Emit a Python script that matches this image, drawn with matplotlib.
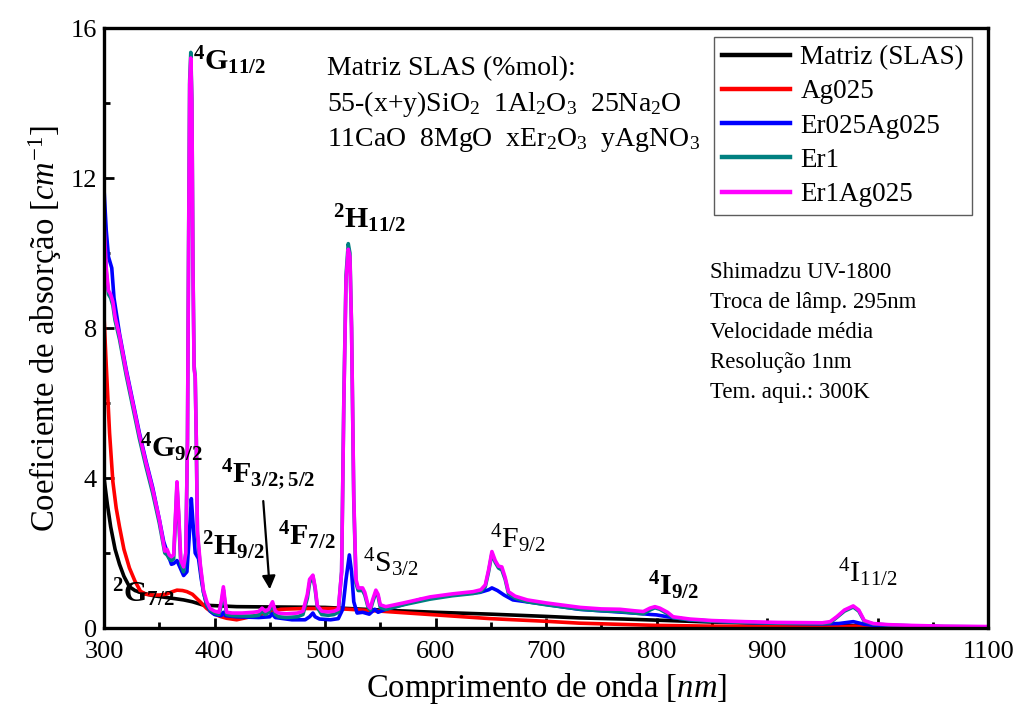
import matplotlib
matplotlib.use('Agg')
import matplotlib.pyplot as plt
from matplotlib.ticker import MultipleLocator

plt.rcParams['font.family'] = ['Liberation Serif', 'DejaVu Serif']
plt.rcParams['mathtext.fontset'] = 'custom'
plt.rcParams['mathtext.rm'] = 'Liberation Serif'
plt.rcParams['mathtext.it'] = 'Liberation Serif:italic'
plt.rcParams['mathtext.bf'] = 'Liberation Serif:bold'

# Matriz (SLAS)
wl_matriz = [300, 303, 306, 310, 314, 318, 323, 328, 335, 345, 355, 365, 372, 380, 390, 405,
             420, 460, 500, 550, 600, 650, 700, 730, 770, 800, 850, 900, 950, 1000, 1050, 1100]
abs_matriz = [4.0, 3.3, 2.7, 2.1, 1.7, 1.38, 1.1, 1.0, 0.93, 0.86, 0.82, 0.78, 0.75, 0.7, 0.61, 0.59,
              0.57, 0.56, 0.55, 0.48, 0.42, 0.37, 0.31, 0.27, 0.24, 0.21, 0.16, 0.12, 0.08, 0.05, 0.02, 0.0]

# Ag025
wl_ag = [300, 302, 305, 308, 311, 314, 318, 323, 328, 333, 338, 344, 350, 356, 361, 366, 371, 375,
         380, 387, 393, 399, 405, 411, 420, 440, 460, 480, 510, 550, 600, 650, 700, 730, 800,
         850, 900, 950, 970, 980, 990, 1000, 1050, 1100]
abs_ag = [8.3, 7.0, 5.2, 3.9, 3.2, 2.7, 2.1, 1.6, 1.25, 0.98, 0.9, 0.88, 0.88, 0.9, 0.96, 1.01, 1.0, 0.97,
          0.9, 0.7, 0.52, 0.39, 0.31, 0.26, 0.22, 0.35, 0.5, 0.52, 0.52, 0.45, 0.35, 0.25, 0.18, 0.13, 0.07,
          0.05, 0.04, 0.03, 0.04, 0.05, 0.03, 0.02, 0.01, 0.0]

# Er025Ag025
wl_er025 = [300, 302, 304, 306, 307, 309, 314, 320, 326, 332, 338, 344, 350, 354, 358, 361, 363, 366,
            369, 372, 375, 377, 379, 380.5, 382.5, 385.5, 388, 390, 393, 396, 400, 406, 408, 410, 420,
            440, 450, 452, 455, 470, 482, 486, 489, 491, 495, 505, 512, 516, 519, 522, 524, 526,
            529, 534, 540, 545, 548, 555, 570, 586, 600, 620, 640, 648, 651, 656, 662, 670, 700, 730,
            770, 788, 795, 800, 810, 830, 860, 900, 950, 965, 978, 988, 1000, 1050, 1100]
abs_er025 = [11.7, 10.6, 9.9, 9.7, 9.6, 8.8, 7.85, 6.9, 6.05, 5.2, 4.45, 3.75, 2.9, 2.3, 1.95, 1.7, 1.72, 1.8,
             1.6, 1.4, 1.5, 2.4, 3.45, 2.8, 2.0, 1.85, 1.3, 0.96, 0.6, 0.45, 0.36, 0.33, 0.42, 0.33, 0.3,
             0.28, 0.3, 0.38, 0.28, 0.22, 0.22, 0.3, 0.4, 0.3, 0.24, 0.22, 0.25, 0.5, 1.3, 1.95, 1.5, 0.7,
             0.4, 0.42, 0.37, 0.5, 0.42, 0.5, 0.62, 0.76, 0.82, 0.9, 0.95, 1.02, 1.07, 1.0, 0.88, 0.75, 0.63, 0.5,
             0.42, 0.38, 0.36, 0.35, 0.3, 0.22, 0.17, 0.13, 0.11, 0.12, 0.17, 0.1, 0.06, 0.03, 0.02]

# Er1
wl_er1 = [300, 302, 304, 306, 308, 310, 314, 320, 326, 332, 338, 344, 350, 355, 357, 359, 361, 363,
          364.5, 366, 367.5, 369.5, 372, 374, 375.5, 376.5, 377.5, 378.5, 379.5, 380.5, 381.5, 382.5, 383.5,
          384.5, 387, 390, 393, 396, 400, 404, 406, 408, 409.5, 411, 416, 425, 435, 440, 443, 446,
          449, 452.5, 455, 458, 465, 475, 480, 484, 486, 489, 491, 493, 497, 503, 508, 512, 515,
          517, 519, 521, 522.5, 524, 526, 528, 530, 534, 536, 539, 541, 543, 546, 548, 550, 555, 571,
          595, 615, 634, 641, 645, 648, 651, 654, 657, 660, 663, 666, 672, 683, 700, 731, 750,
          767, 780, 788, 794, 798.5, 803, 810, 815, 830, 850, 880, 910, 950, 957, 963, 970, 978, 983, 988,
          996, 1010, 1030, 1060, 1100]
abs_er1 = [10.7, 9.5, 8.9, 8.8, 8.6, 8.2, 7.7, 6.75, 5.9, 5.05, 4.3, 3.6, 2.8, 2.0, 1.95, 1.85, 1.8, 1.85,
           2.8, 3.8, 3.0, 1.7, 1.5, 2.0, 5.0, 10.2, 14.6, 15.35, 14.1, 9.6, 7.0, 6.7, 5.0,
           2.5, 1.65, 0.95, 0.62, 0.48, 0.4, 0.36, 0.6, 1.02, 0.65, 0.36, 0.33, 0.32, 0.32, 0.34, 0.45, 0.36,
           0.42, 0.64, 0.36, 0.3, 0.28, 0.3, 0.36, 0.8, 1.2, 1.38, 1.05, 0.55, 0.36, 0.34, 0.36, 0.42, 1.5,
           6.1, 9.4, 10.25, 10.0, 8.0, 3.4, 1.2, 1.0, 1.0, 0.88, 0.55, 0.48, 0.68, 0.95, 0.85, 0.55, 0.5, 0.62,
           0.77, 0.86, 0.92, 0.97, 1.1, 1.5, 1.98, 1.75, 1.6, 1.55, 1.3, 0.92, 0.8, 0.7, 0.62, 0.5, 0.46,
           0.44, 0.4, 0.38, 0.48, 0.54, 0.5, 0.38, 0.28, 0.22, 0.18, 0.15, 0.13, 0.12, 0.14, 0.28, 0.45, 0.56, 0.45, 0.18,
           0.11, 0.08, 0.06, 0.04, 0.03]

# Er1Ag025
wl_er1ag = [300, 302, 304, 306, 308, 310, 314, 320, 326, 332, 338, 344, 350, 355, 357, 359, 361, 363,
            364.5, 366, 367.5, 369.5, 372, 374, 375.5, 376.5, 377.5, 378.5, 379.5, 380.5, 381.5, 382.5, 383.5,
            384.5, 387, 390, 393, 396, 400, 404, 406, 408, 409.5, 411, 416, 425, 435, 440, 443, 446,
            449, 452.5, 455, 458, 465, 475, 480, 484, 486, 489, 491, 493, 497, 503, 508, 512, 515,
            517, 519, 521, 522.5, 524, 526, 528, 530, 534, 536, 539, 541, 543, 546, 548, 550, 555, 571,
            595, 615, 634, 641, 645, 648, 651, 654, 657, 660, 663, 666, 672, 683, 700, 731, 750,
            767, 780, 788, 794, 798.5, 803, 810, 815, 830, 850, 880, 910, 950, 957, 963, 970, 978, 983, 988,
            996, 1010, 1030, 1060, 1100]
abs_er1ag = [10.8, 9.6, 9.0, 8.9, 8.7, 8.3, 7.8, 6.85, 6.0, 5.15, 4.4, 3.7, 2.9, 2.05, 2.1, 1.95, 1.9, 1.95,
             2.9, 3.9, 3.1, 1.8, 1.63, 2.0, 5.0, 10.0, 14.5, 15.2, 14.0, 9.5, 6.9, 6.7, 5.0,
             2.6, 1.73, 1.01, 0.7, 0.52, 0.45, 0.42, 0.7, 1.1, 0.72, 0.42, 0.4, 0.4, 0.42, 0.44, 0.53, 0.45,
             0.5, 0.7, 0.45, 0.4, 0.38, 0.4, 0.45, 0.9, 1.3, 1.41, 1.1, 0.6, 0.45, 0.43, 0.45, 0.5, 1.5,
             6.0, 9.3, 10.1, 9.9, 8.0, 3.5, 1.3, 1.07, 1.07, 0.95, 0.6, 0.53, 0.75, 1.01, 0.9, 0.62, 0.57, 0.67,
             0.83, 0.91, 0.97, 1.02, 1.15, 1.55, 2.04, 1.8, 1.65, 1.63, 1.35, 0.97, 0.85, 0.75, 0.67, 0.55, 0.51,
             0.5, 0.46, 0.44, 0.53, 0.57, 0.53, 0.42, 0.3, 0.24, 0.2, 0.17, 0.15, 0.14, 0.17, 0.3, 0.48, 0.59, 0.48, 0.2,
             0.12, 0.09, 0.07, 0.05, 0.04]

fig = plt.figure(figsize=(10.16, 7.09), dpi=100)
ax = fig.add_axes([0.1024, 0.1142, 0.8701, 0.8463])

lw = 2.6
ax.plot(wl_matriz, abs_matriz, color='black', lw=lw, label='Matriz (SLAS)')
ax.plot(wl_ag, abs_ag, color='#ff0000', lw=lw, label='Ag025')
ax.plot(wl_er025, abs_er025, color='#0000ff', lw=lw, label='Er025Ag025')
ax.plot(wl_er1, abs_er1, color='#008080', lw=lw, label='Er1')
ax.plot(wl_er1ag, abs_er1ag, color='#ff00ff', lw=lw, label='Er1Ag025')

ax.set_xlim(300, 1100)
ax.set_ylim(0, 16)
ax.xaxis.set_major_locator(MultipleLocator(100))
ax.xaxis.set_minor_locator(MultipleLocator(50))
ax.yaxis.set_major_locator(MultipleLocator(4))
ax.yaxis.set_minor_locator(MultipleLocator(2))
ax.tick_params(which='both', direction='in', width=2, labelsize=19, top=False, right=False)
ax.tick_params(which='major', length=7)
ax.tick_params(which='minor', length=4)
ax.tick_params(axis='x', pad=9)
ax.tick_params(axis='y', pad=5)
for s in ax.spines.values():
    s.set_linewidth(2.4)

ax.set_xlabel('Comprimento de onda [$\\it{nm}$]', fontsize=23.5, labelpad=6)
ax.set_ylabel('Coeficiente de absorção [$\\it{cm}^{\\it{-1}}$]', fontsize=23.5, labelpad=5)

leg = ax.legend(loc='upper right', bbox_to_anchor=(0.982, 0.985), borderaxespad=0, fontsize=19.5,
                frameon=True, fancybox=False, edgecolor='#333333', handlelength=2.5, labelspacing=0.34,
                handletextpad=0.4, borderpad=0.3)
leg.get_frame().set_linewidth(1)
for h in leg.get_lines():
    h.set_linewidth(3.2)

# transitions
bold = dict(fontsize=21.5, ha='left', va='baseline')
norm = dict(fontsize=21.5, ha='left', va='baseline')
ax.text(380.5, 14.88, r'$\mathbf{^{4}G_{11/2}}$', **bold)
ax.text(507.2, 10.67, r'$\mathbf{^{2}H_{11/2}}$', **bold)
ax.text(332.6, 4.56, r'$\mathbf{^{4}G_{9/2}}$', **bold)
ax.text(405.9, 3.87, r'$\mathbf{^{4}F_{3/2;5/2}}$', **bold)
ax.text(388.7, 1.95, r'$\mathbf{^{2}H_{9/2}}$', **bold)
ax.text(457.5, 2.21, r'$\mathbf{^{4}F_{7/2}}$', **bold)
ax.text(534.0, 1.49, r'$\mathrm{^{4}S_{3/2}}$', **norm)
ax.text(649.3, 2.13, r'$\mathrm{^{4}F_{9/2}}$', **norm)
ax.text(792.3, 0.88, r'$\mathbf{^{4}I_{9/2}}$', **bold)
ax.text(964.2, 1.23, r'$\mathrm{^{4}I_{11/2}}$', **norm)
ax.text(307.2, 0.69, r'$\mathbf{^{2}G_{7/2}}$', **bold)
ax.annotate('', xy=(450.2, 0.96), xytext=(443.9, 3.46),
            arrowprops=dict(arrowstyle='-|>', color='black', lw=1.6, mutation_scale=20))

# composition
ax.text(501.8, 14.75, 'Matriz SLAS (%mol):', fontsize=20)
ax.text(501.8, 13.8, '55-(x+y)SiO$_2$  1Al$_2$O$_3$  25Na$_2$O', fontsize=20)
ax.text(501.8, 12.85, '11CaO  8MgO  xEr$_2$O$_3$  yAgNO$_3$', fontsize=20)

# instrument
info = ['Shimadzu UV-1800', 'Troca de lâmp. 295nm', 'Velocidade média', 'Resolução 1nm', 'Tem. aqui.: 300K']
for i, line in enumerate(info):
    ax.text(848.4, 9.33 - 0.8 * i, line, fontsize=16.5)

fig.savefig('out.png', dpi=100)
